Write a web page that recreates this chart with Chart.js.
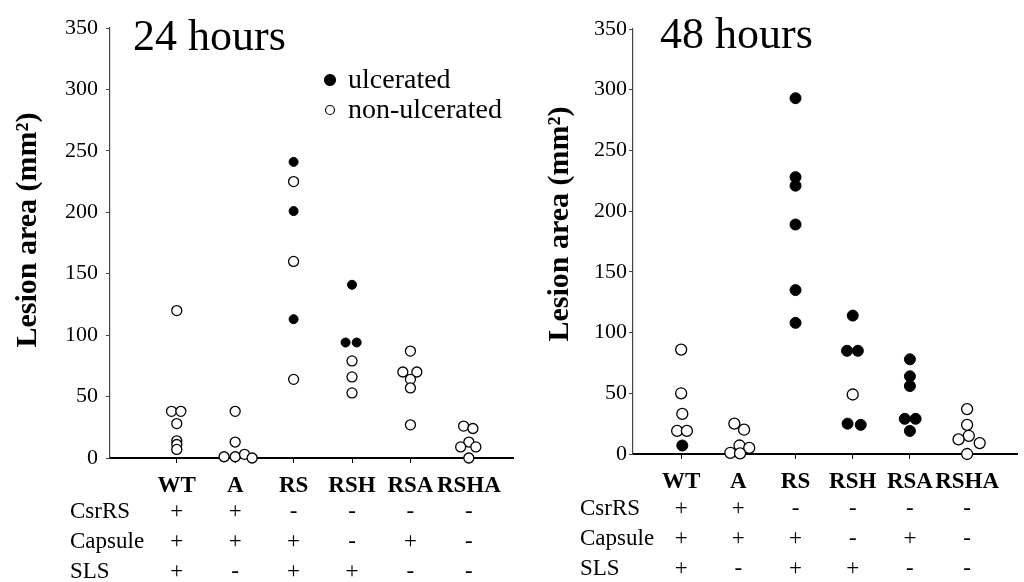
<!DOCTYPE html>
<html lang="en">
<head>
<meta charset="UTF-8">
<title>Lesion area 24 h / 48 h</title>
<script src="https://cdn.jsdelivr.net/npm/chart.js"></script>
<style>
  html, body { margin: 0; padding: 0; background: #fff; }
  #wrap { position: relative; width: 1024px; height: 582px; overflow: hidden; }
  canvas { position: absolute; top: 0; }
  #c24 { left: 0; }
  #c48 { left: 520px; }
</style>
</head>
<body>
<div id="wrap">
  <canvas id="c24" width="520" height="582"></canvas>
  <canvas id="c48" width="504" height="582"></canvas>
</div>
<script>
const groups = ['WT', 'A', 'RS', 'RSH', 'RSA', 'RSHA'];
const yTicks = [0, 50, 100, 150, 200, 250, 300, 350];

// each point: [lesion area in mm², small horizontal jitter in group units]
const ulcerated24 = [
  [], [],
  [[241, 0], [201, 0], [113, 0]],
  [[141, 0], [94, -0.11], [94, 0.08]],
  [], []
];
const nonUlcerated24 = [
  [[120, 0], [38, -0.09], [38, 0.07], [28, 0], [14, 0], [11, 0], [7, 0]],
  [[38, 0], [13, 0], [1, -0.19], [1, 0], [3, 0.16], [0, 0.29]],
  [[225, 0], [160, 0], [64, 0]],
  [[79, 0], [66, 0], [53, 0]],
  [[87, 0], [70, -0.13], [70, 0.11], [64, 0], [57, 0], [27, 0]],
  [[26, -0.09], [24, 0.07], [13, 0], [9, -0.14], [9, 0.12], [0, 0]]
];
const ulcerated48 = [
  [[7, 0.02]],
  [],
  [[293, 0], [228, 0], [221, 0], [189, 0], [135, 0], [108, 0]],
  [[114, 0], [85, -0.1], [85, 0.09], [25, -0.09], [24, 0.14]],
  [[78, 0], [64, 0], [56, 0], [29, -0.09], [29, 0.1], [19, 0]],
  []
];
const nonUlcerated48 = [
  [[86, 0], [50, 0], [33, 0.02], [19, -0.07], [19, 0.1]],
  [[25, -0.07], [20, 0.1], [7, 0.02], [5, 0.19], [1, -0.14], [0.5, 0.03]],
  [],
  [[49, 0]],
  [],
  [[37, 0], [24, 0], [15, 0.03], [12, -0.15], [9, 0.22], [0, 0]]
];

const csrRS   = ['+', '+', '-', '-', '-', '-'];
const capsule = ['+', '+', '+', '-', '+', '-'];
const sls     = ['+', '-', '+', '+', '-', '-'];

const serif = '"Liberation Serif", "Times New Roman", serif';

function points(list) {
  const out = [];
  list.forEach((grp, gi) => grp.forEach(([v, j]) => out.push({ x: gi + j, y: v })));
  return out;
}

// titles, rotated y label, genotype table and legend
const panelDecor = {
  id: 'panelDecor',
  afterDraw(chart, args, o) {
    const ctx = chart.ctx;
    const xs = chart.scales.x;
    ctx.save();
    ctx.fillStyle = '#000';
    ctx.textBaseline = 'alphabetic';

    ctx.font = `44px ${serif}`;
    ctx.textAlign = 'left';
    ctx.fillText(o.title, o.titleX, o.titleY);

    ctx.save();
    ctx.translate(o.yTitleX, o.yTitleY);
    ctx.rotate(-Math.PI / 2);
    ctx.font = `bold 30px ${serif}`;
    ctx.textAlign = 'center';
    ctx.textBaseline = 'middle';
    ctx.fillText('Lesion area (mm²)', 0, 0);
    ctx.restore();

    ctx.font = `23px ${serif}`;
    const rows = [['CsrRS', csrRS], ['Capsule', capsule], ['SLS', sls]];
    rows.forEach(([name, signs], r) => {
      const y = o.rowY[r];
      ctx.textAlign = 'left';
      ctx.fillText(name, o.rowLabelX, y);
      ctx.textAlign = 'center';
      signs.forEach((s, i) => ctx.fillText(s, xs.getPixelForValue(i), y));
    });

    if (o.legend) {
      ctx.font = `28px ${serif}`;
      ctx.textAlign = 'left';
      chart.data.datasets.forEach((ds, i) => {
        const cy = o.legend.y + i * o.legend.gap;
        ctx.beginPath();
        ctx.arc(o.legend.x, cy, o.legend.r[i], 0, Math.PI * 2);
        ctx.fillStyle = ds.backgroundColor;
        ctx.fill();
        ctx.lineWidth = 1.2;
        ctx.strokeStyle = '#000';
        ctx.stroke();
        ctx.fillStyle = '#000';
        ctx.fillText(ds.label, o.legend.x + 18, cy + 8);
      });
    }
    ctx.restore();
  }
};

function makePanel(id, ulc, non, o) {
  return new Chart(document.getElementById(id), {
    type: 'scatter',
    data: {
      datasets: [
        { label: 'ulcerated', data: points(ulc), backgroundColor: '#000', borderColor: '#000',
          borderWidth: 1, pointRadius: o.ulcR, pointHoverRadius: o.ulcR, clip: false },
        { label: 'non-ulcerated', data: points(non), backgroundColor: '#fff', borderColor: '#000',
          borderWidth: 1.3, pointRadius: o.nonR, pointHoverRadius: o.nonR, clip: false }
      ]
    },
    options: {
      responsive: false,
      animation: false,
      events: [],
      layout: { padding: { top: o.top, right: o.right, left: 0, bottom: 0 } },
      plugins: {
        legend: { display: false },
        tooltip: { enabled: false },
        panelDecor: o.decor
      },
      scales: {
        x: {
          type: 'linear', min: o.xMin, max: o.xMax, z: 1,
          afterBuildTicks: s => { s.ticks = groups.map((g, i) => ({ value: i })); },
          afterFit: s => { s.height = o.xAxisH; },
          ticks: {
            callback: v => groups[v], autoSkip: false, maxRotation: 0, padding: 9,
            color: '#000', font: { family: serif, size: 23, weight: 'bold' }
          },
          grid: { drawOnChartArea: false, drawTicks: true, tickLength: 5, color: '#000', lineWidth: 1 },
          border: { color: '#000', width: 2 }
        },
        y: {
          min: 0, max: 350,
          afterBuildTicks: s => { s.ticks = yTicks.map(v => ({ value: v })); },
          afterFit: s => { s.width = o.yAxisW; },
          ticks: { color: '#000', padding: o.yTickPad, font: { family: serif, size: 22 } },
          grid: { drawOnChartArea: false, drawTicks: true, tickLength: 4, color: '#444', lineWidth: 1 },
          border: { color: '#444', width: 1.2 }
        }
      }
    },
    plugins: [panelDecor]
  });
}

makePanel('c24', ulcerated24, nonUlcerated24, {
  top: 28, right: 5, xAxisH: 124, yAxisW: 110, yTickPad: 8,
  xMin: -1.143, xMax: 5.768, ulcR: 4.5, nonR: 5,
  decor: {
    title: '24 hours', titleX: 133, titleY: 50,
    yTitleX: 28, yTitleY: 230,
    rowLabelX: 70, rowY: [518, 548, 578],
    legend: { x: 330, y: 80, gap: 30, r: [5.5, 4.5] }
  }
});

makePanel('c48', ulcerated48, nonUlcerated48, {
  top: 29, right: 0, xAxisH: 128, yAxisW: 113, yTickPad: 2,
  xMin: -0.842, xMax: 5.876, ulcR: 5.5, nonR: 5.5,
  decor: {
    title: '48 hours', titleX: 140, titleY: 48,
    yTitleX: 40, yTitleY: 224,
    rowLabelX: 60, rowY: [515, 545, 575],
    legend: null
  }
});
</script>
</body>
</html>
